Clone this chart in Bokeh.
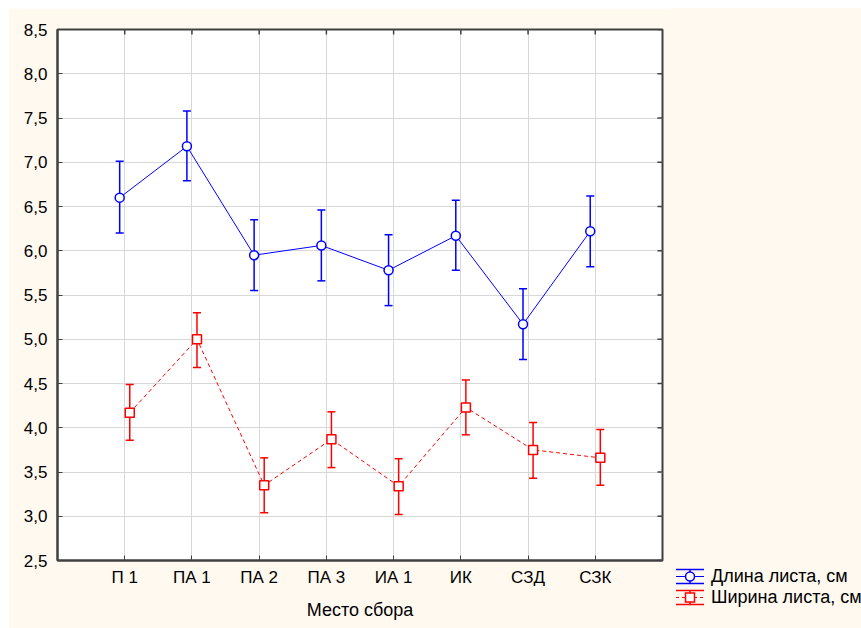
import math
from bokeh.plotting import figure
from bokeh.layouts import row
from bokeh.models import ColumnDataSource, Whisker, FixedTicker, Range1d, Div
from bokeh.transform import dodge
from bokeh.embed import file_html
from bokeh.resources import INLINE

categories = ["П 1", "ПА 1", "ПА 2", "ПА 3", "ИА 1", "ИК", "СЗД", "СЗК"]
length_mean = [6.60, 7.18, 5.95, 6.06, 5.78, 6.17, 5.17, 6.22]
length_low = [6.20, 6.79, 5.55, 5.66, 5.38, 5.78, 4.77, 5.82]
length_high = [7.01, 7.58, 6.35, 6.46, 6.18, 6.57, 5.57, 6.62]
width_mean = [4.17, 5.00, 3.35, 3.87, 3.34, 4.23, 3.75, 3.66]
width_low = [3.86, 4.68, 3.04, 3.55, 3.02, 3.92, 3.43, 3.35]
width_high = [4.49, 5.30, 3.66, 4.18, 3.65, 4.54, 4.06, 3.98]
y_ticks = [2.5, 3.0, 3.5, 4.0, 4.5, 5.0, 5.5, 6.0, 6.5, 7.0, 7.5, 8.0, 8.5]
series_names = ["Длина листа, см", "Ширина листа, см"]

pos = list(range(1, len(categories) + 1))
src = ColumnDataSource(dict(x=pos, lm=length_mean, ll=length_low, lh=length_high,
                            wm=width_mean, wl=width_low, wh=width_high))

BG = "#fff9ef"
FONT = "Liberation Sans"
DARK = "#404040"
blue = "#0000ff"
red = "#ff0000"
x_end = len(categories) + 1
y_start, y_end = y_ticks[0], y_ticks[-1]

p = figure(width=664, height=620, output_backend="svg", toolbar_location=None,
           x_range=Range1d(0, x_end), y_range=Range1d(y_start, y_end),
           background_fill_color="white", border_fill_color=BG,
           min_border_left=49, min_border_top=21, min_border_right=10,
           min_border_bottom=68)
p.margin = (8, 0, 0, 8)
p.outline_line_color = DARK
p.outline_line_width = 2

# axes
ax = p.xaxis[0]
ax.ticker = FixedTicker(ticks=pos)
ax.major_label_overrides = {i: c for i, c in zip(pos, categories)}
ax.axis_label = "Место сбора"
ay = p.yaxis[0]
ay.ticker = FixedTicker(ticks=y_ticks)
ay.major_label_overrides = {t: f"{t:.1f}".replace(".", ",") for t in y_ticks}
for a in (ax, ay):
    a.axis_line_color = DARK
    a.axis_line_width = 2
    a.major_tick_in = 5
    a.major_tick_out = 0
    a.minor_tick_line_color = None
    a.major_tick_line_color = DARK
    a.major_label_text_font = FONT
    a.major_label_text_font_size = "17px"
    a.major_label_text_color = "black"
    a.axis_label_text_font = FONT
    a.axis_label_text_font_size = "18px"
    a.axis_label_text_font_style = "normal"
    a.axis_label_text_color = "black"
ax.major_label_standoff = 7
ax.axis_label_standoff = 10
ay.major_label_standoff = 10

p.xgrid.ticker = FixedTicker(ticks=pos)
p.ygrid.ticker = FixedTicker(ticks=y_ticks)
p.grid.grid_line_color = "#d8d8d8"
p.grid.grid_line_width = 1

# inward ticks on the top and right frame edges
p.scatter(pos, [y_end] * len(pos), marker="dash", angle=math.pi / 2, size=10,
          line_color=DARK, line_width=1.5)
p.scatter([x_end] * len(y_ticks), y_ticks, marker="dash", size=10,
          line_color=DARK, line_width=1.5)

xb = dodge("x", -0.075, range=p.x_range)
xr = dodge("x", 0.075, range=p.x_range)

def whisker(lower, upper, base, color):
    w = Whisker(source=src, base=base, lower=lower, upper=upper,
                line_color=color, line_width=1.5)
    for h in (w.upper_head, w.lower_head):
        h.line_color = color
        h.size = 8
        h.line_width = 1.5
    p.add_layout(w)

whisker("ll", "lh", xb, blue)
whisker("wl", "wh", xr, red)

p.line(xb, "lm", source=src, line_color=blue, line_width=1)
p.scatter(xb, "lm", source=src, marker="circle", size=9, fill_color="white",
          line_color=blue, line_width=1.5)
p.line(xr, "wm", source=src, line_color=red, line_width=1, line_dash="4 3")
p.scatter(xr, "wm", source=src, marker="square", size=9, fill_color="white",
          line_color=red, line_width=1.5)

# legend (HTML panel to the right of the plot)
def glyph_svg(color, marker, dash):
    da = ' stroke-dasharray="3 3"' if dash else ""
    if marker == "circle":
        m = f'<circle cx="14" cy="10.5" r="4.5" fill="white" stroke="{color}" stroke-width="1.5"/>'
    else:
        m = f'<rect x="9.5" y="6" width="9" height="9" fill="white" stroke="{color}" stroke-width="1.5"/>'
    return (f'<svg width="28" height="21" style="display:block">'
            f'<line x1="0" y1="3.5" x2="28" y2="3.5" stroke="{color}" stroke-width="1.5"/>'
            f'<line x1="0" y1="17.5" x2="28" y2="17.5" stroke="{color}" stroke-width="1.5"/>'
            f'<line x1="14" y1="3.5" x2="14" y2="17.5" stroke="{color}" stroke-width="1.5"/>'
            f'<line x1="0" y1="10.5" x2="28" y2="10.5" stroke="{color}" stroke-width="1"{da}/>'
            f'{m}</svg>')

items = [(series_names[0], blue, "circle", False, 558),
         (series_names[1], red, "square", True, 579)]
rows_html = "".join(
    f'<div style="position:absolute;left:4px;top:{top}px;height:21px;display:flex;'
    f'align-items:center;white-space:nowrap">{glyph_svg(c, m, d)}'
    f'<span style="margin-left:7px;line-height:21px">{name}</span></div>'
    for name, c, m, d, top in items)
html = (f'<div style="position:relative;width:189px;height:620px;background:{BG};'
        f"overflow:hidden;font-family:'{FONT}',Arial,sans-serif;font-size:18px;"
        f'color:black">{rows_html}</div>')
leg = Div(text=html, width=189, height=620, margin=(8, 0, 0, 0),
          styles={"background-color": BG, "overflow": "hidden"})

layout = row(p, leg, spacing=0)
open("out.html", "w").write(file_html(layout, INLINE))
